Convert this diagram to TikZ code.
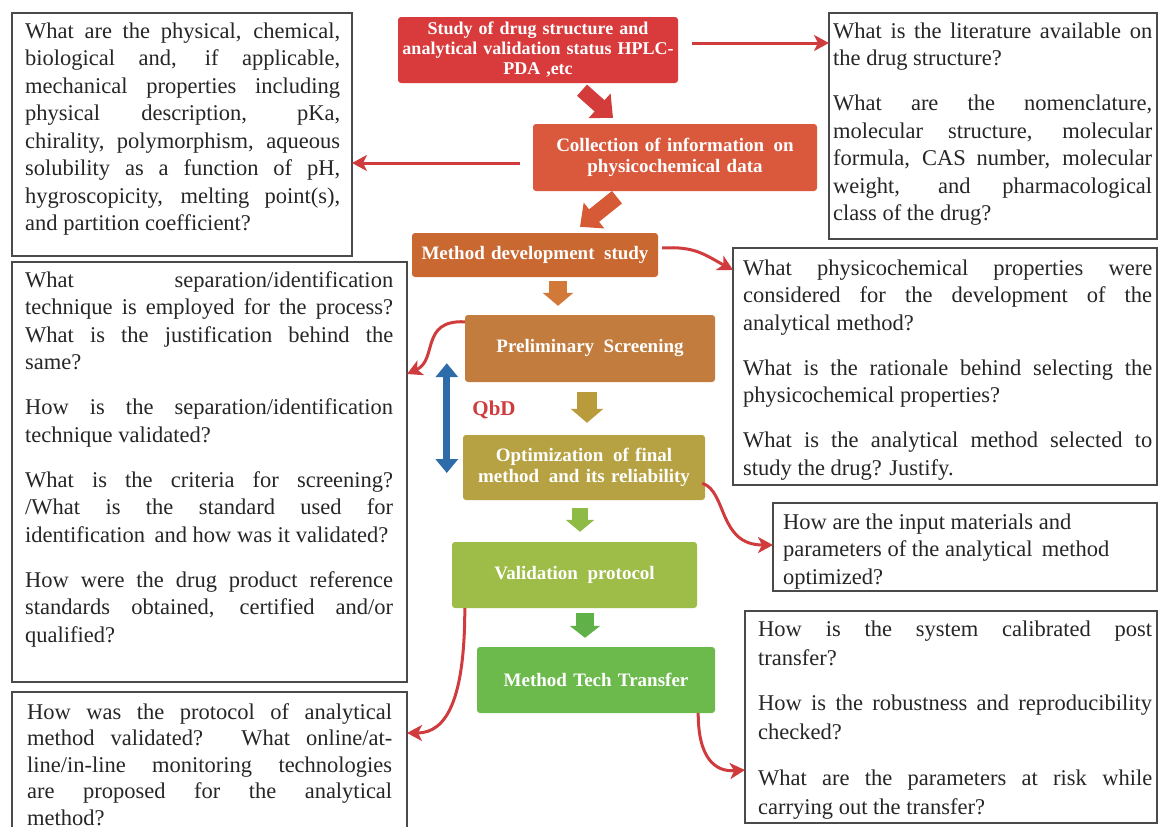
\documentclass[tikz,border=0pt]{standalone}
\usepackage{fontspec}
\setmainfont{Liberation Serif}
\usetikzlibrary{arrows.meta}

% paragraph setup: forced, justified breaks, no hyphenation
\hbadness=10000 \hfuzz=3pt
\tolerance=10000 \pretolerance=-1
\hyphenpenalty=10000 \exhyphenpenalty=10000
\linepenalty=1000
\setlength\parindent{0pt}

\definecolor{qborder}{HTML}{4A4A4A}
\definecolor{qink}{HTML}{262626}
\definecolor{conn}{HTML}{D03C3E}
\definecolor{stA}{HTML}{D93A3C}
\definecolor{stB}{HTML}{DA583C}
\definecolor{stC}{HTML}{CA6832}
\definecolor{stD}{HTML}{C17C3E}
\definecolor{stE}{HTML}{B6A242}
\definecolor{stF}{HTML}{9EBC48}
\definecolor{stG}{HTML}{6CB94C}
\definecolor{arAB}{HTML}{D43C3C}
\definecolor{arBC}{HTML}{D65A35}
\definecolor{arCD}{HTML}{D2793A}
\definecolor{arDE}{HTML}{B99B3C}
\definecolor{arEF}{HTML}{8DBB45}
\definecolor{arFG}{HTML}{5FB148}
\definecolor{qbdblue}{HTML}{2D6CA8}

\newcommand\qfont{\fontsize{22.5pt}{27.5pt}\selectfont}
\newcommand\qstrut{\rule{0pt}{16pt}}
\newcommand\qpar{\par\vspace{17.5pt}}
\newcommand\cfont{\fontsize{19pt}{21pt}\selectfont\bfseries}

\begin{document}
\begin{tikzpicture}[x=1pt,y=-1pt,
  qbox/.style={draw=qborder, line width=1.8pt, rectangle, anchor=north west,
    inner sep=0pt, outer sep=0pt},
  qtext/.style={anchor=north west, inner sep=0pt, align=justify, text=qink,
    font=\qfont},
  stage/.style={rectangle, rounded corners=3pt, fill=#1, text=white,
    font=\cfont, align=center, inner sep=0pt},
  conn/.style={draw=conn, line width=3pt,
    -{Stealth[length=15pt,width=16pt,inset=4pt]}},
  blockarrow/.style n args={4}{draw=#1, line width=#2,
    -{Triangle[length=#4,width=#3]}},
]
\useasboundingbox (0,0) rectangle (1159,827);
\fill[white] (0,0) rectangle (1159,827);
\clip (0,0) rectangle (1159,827);

% ---------- process stages ----------
\node[stage=stA, minimum width=280pt, minimum height=66pt, text width=278pt,
  font=\fontsize{18pt}{20pt}\selectfont\bfseries] (A) at (538,50)
  {Study of drug structure and\\ analytical validation status HPLC-\\ PDA ,etc};
\node[stage=stB, minimum width=284pt, minimum height=67pt, text width=280pt] (B) at (675,157.5)
  {Collection of information\, on\\ physicochemical data};
\node[stage=stC, minimum width=246pt, minimum height=44pt, text width=242pt] (C) at (535,255)
  {Method development\, study};
\node[stage=stD, minimum width=250pt, minimum height=67pt, text width=246pt] (D) at (590,348.5)
  {Preliminary\, Screening};
\node[stage=stE, minimum width=242pt, minimum height=65pt, text width=238pt] (E) at (584,467.5)
  {Optimization\, of final\\ method\, and its reliability};
\node[stage=stF, minimum width=245pt, minimum height=66pt, text width=241pt] (F) at (574.5,575)
  {Validation\, protocol};
\node[stage=stG, minimum width=238pt, minimum height=66pt, text width=234pt] (G) at (596,680)
  {Method Tech Transfer};

% ---------- question boxes ----------
\node[qbox, minimum width=340pt, minimum height=243pt] (LB1) at (12,13) {};
\node[qtext, text width=315pt] (LB1t) at ([shift={(13pt,-9pt)}]LB1.north west)
  {\qstrut What are the physical, chemical,\linebreak
   biological and, if applicable,\linebreak
   mechanical properties including\linebreak
   physical description, pKa,\linebreak
   chirality, polymorphism, aqueous\linebreak
   solubility as a function of pH,\linebreak
   hygroscopicity, melting point(s),\linebreak
   and partition coefficient?};

\node[qbox, minimum width=395pt, minimum height=420pt] (LB2) at (12,262) {};
\node[qtext, text width=368pt] (LB2t) at ([shift={(13pt,-9pt)}]LB2.north west)
  {\qstrut What separation/identification\linebreak
   technique is employed for the process?\linebreak
   What is the justification behind the\linebreak
   same?\qpar
   How is the separation/identification\linebreak
   technique validated?\qpar
   What is the criteria for screening?\linebreak
   /What is the standard used for\linebreak
   identification\, and how was it validated?\qpar
   How were the drug product reference\linebreak
   standards obtained, certified and/or\linebreak
   qualified?};

\node[qbox, minimum width=395pt, minimum height=200pt] (LB3) at (12,692) {};
\node[qtext, text width=365pt, font=\fontsize{22.5pt}{26.5pt}\selectfont] (LB3t)
  at ([shift={(15pt,-11pt)}]LB3.north west)
  {\qstrut How was the protocol of analytical\linebreak
   method validated? What online/at-\linebreak
   line/in-line monitoring technologies\linebreak
   are proposed for the analytical\linebreak
   method?};

\node[qbox, minimum width=328pt, minimum height=226pt] (RB1) at (829,13) {};
\node[qtext, text width=319pt] (RB1t) at ([shift={(4pt,-9pt)}]RB1.north west)
  {\qstrut What is the literature available on\linebreak
   the drug structure?\qpar
   What are the nomenclature,\linebreak
   molecular structure, molecular\linebreak
   formula, CAS number, molecular\linebreak
   weight, and pharmacological\linebreak
   class of the drug?};

\node[qbox, minimum width=424pt, minimum height=237pt] (RB2) at (733,248) {};
\node[qtext, text width=409pt] (RB2t) at ([shift={(10pt,-11pt)}]RB2.north west)
  {\qstrut What physicochemical properties were\linebreak
   considered for the development of the\linebreak
   analytical method?\qpar
   What is the rationale behind selecting the\linebreak
   physicochemical properties?\qpar
   What is the analytical method selected to\linebreak
   study the drug? Justify.};

\node[qbox, minimum width=384pt, minimum height=88pt] (RB3) at (773,503) {};
\node[qtext, align=left] (RB3t) at ([shift={(10pt,-10pt)}]RB3.north west)
  {\qstrut How are the input materials and\\
   parameters of the analytical\, method\\
   optimized?};

\node[qbox, minimum width=412pt, minimum height=212pt] (RB4) at (745,611) {};
\node[qtext, text width=394pt, font=\fontsize{22.5pt}{29pt}\selectfont] (RB4t)
  at ([shift={(13pt,-9pt)}]RB4.north west)
  {\qstrut How is the system calibrated post\linebreak
   transfer?\par\vspace{16.5pt}
   How is the robustness and reproducibility\linebreak
   checked?\par\vspace{16.5pt}
   What are the parameters at risk while\linebreak
   carrying out the transfer?};

% ---------- flow between stages ----------
\draw[blockarrow={arAB}{15pt}{32pt}{18pt}]
  ([shift={(44pt,-7pt)}]A.south) -- ([shift={(-62pt,6pt)}]B.north);
\draw[blockarrow={arBC}{16pt}{32pt}{18pt}]
  ([shift={(-58pt,-6pt)}]B.south) -- ([shift={(45pt,6pt)}]C.north);
\draw[blockarrow={arCD}{18pt}{30pt}{13pt}]
  ([shift={(23pt,-4pt)}]C.south) -- ([shift={(-32pt,9pt)}]D.north);
\draw[blockarrow={arDE}{20pt}{32pt}{14pt}]
  ([shift={(-3pt,-10pt)}]D.south) -- ([shift={(3pt,12pt)}]E.north);
\draw[blockarrow={arEF}{16pt}{28pt}{12pt}]
  ([shift={(-4pt,-8pt)}]E.south) -- ([shift={(5.5pt,10pt)}]F.north);
\draw[blockarrow={arFG}{18pt}{30pt}{12pt}]
  ([shift={(10.5pt,-5pt)}]F.south) -- ([shift={(-11pt,9pt)}]G.north);

% ---------- QbD loop ----------
\draw[draw=qbdblue, line width=7pt,
  {Triangle[length=14pt,width=22pt]}-{Triangle[length=14pt,width=22pt]}]
  ([shift={(-18pt,19pt)}]D.south west) -- ([shift={(-16pt,-5.5pt)}]E.west);
\node[text=conn, font=\fontsize{21pt}{24pt}\selectfont\bfseries, inner sep=0pt]
  (QbD) at (494,410) {QbD};

% ---------- links to the questions ----------
\draw[conn] ([shift={(14pt,7pt)}]A.east) -- ([yshift=7pt]A.east -| RB1.west);
\draw[conn] ([shift={(-13pt,-5.5pt)}]B.west) -- ([yshift=-5.5pt]B.west -| LB1.east);
\draw[conn] ([shift={(4pt,7pt)}]C.east)
  .. controls +(33pt,2pt) and +(-28pt,15pt) .. ([yshift=-22pt]RB2.north west);
\draw[conn] ([yshift=-7pt]D.north west)
  .. controls +(-45pt,2pt) and +(31pt,14pt) .. ([yshift=-112pt]LB2.north east);
\draw[conn] ([shift={(-3pt,17pt)}]E.south east)
  .. controls +(25pt,-8pt) and +(-55pt,0pt) .. ([yshift=-42pt]RB3.north west);
\draw[conn] ([xshift=13pt]F.south west)
  .. controls +(0pt,-90pt) and +(40pt,0pt) .. ([yshift=-41pt]LB3.north east);
\draw[conn] ([xshift=-17pt]G.south east)
  .. controls +(0pt,-45pt) and +(-30pt,-2pt) .. ([yshift=-159pt]RB4.north west);
\end{tikzpicture}
\end{document}
